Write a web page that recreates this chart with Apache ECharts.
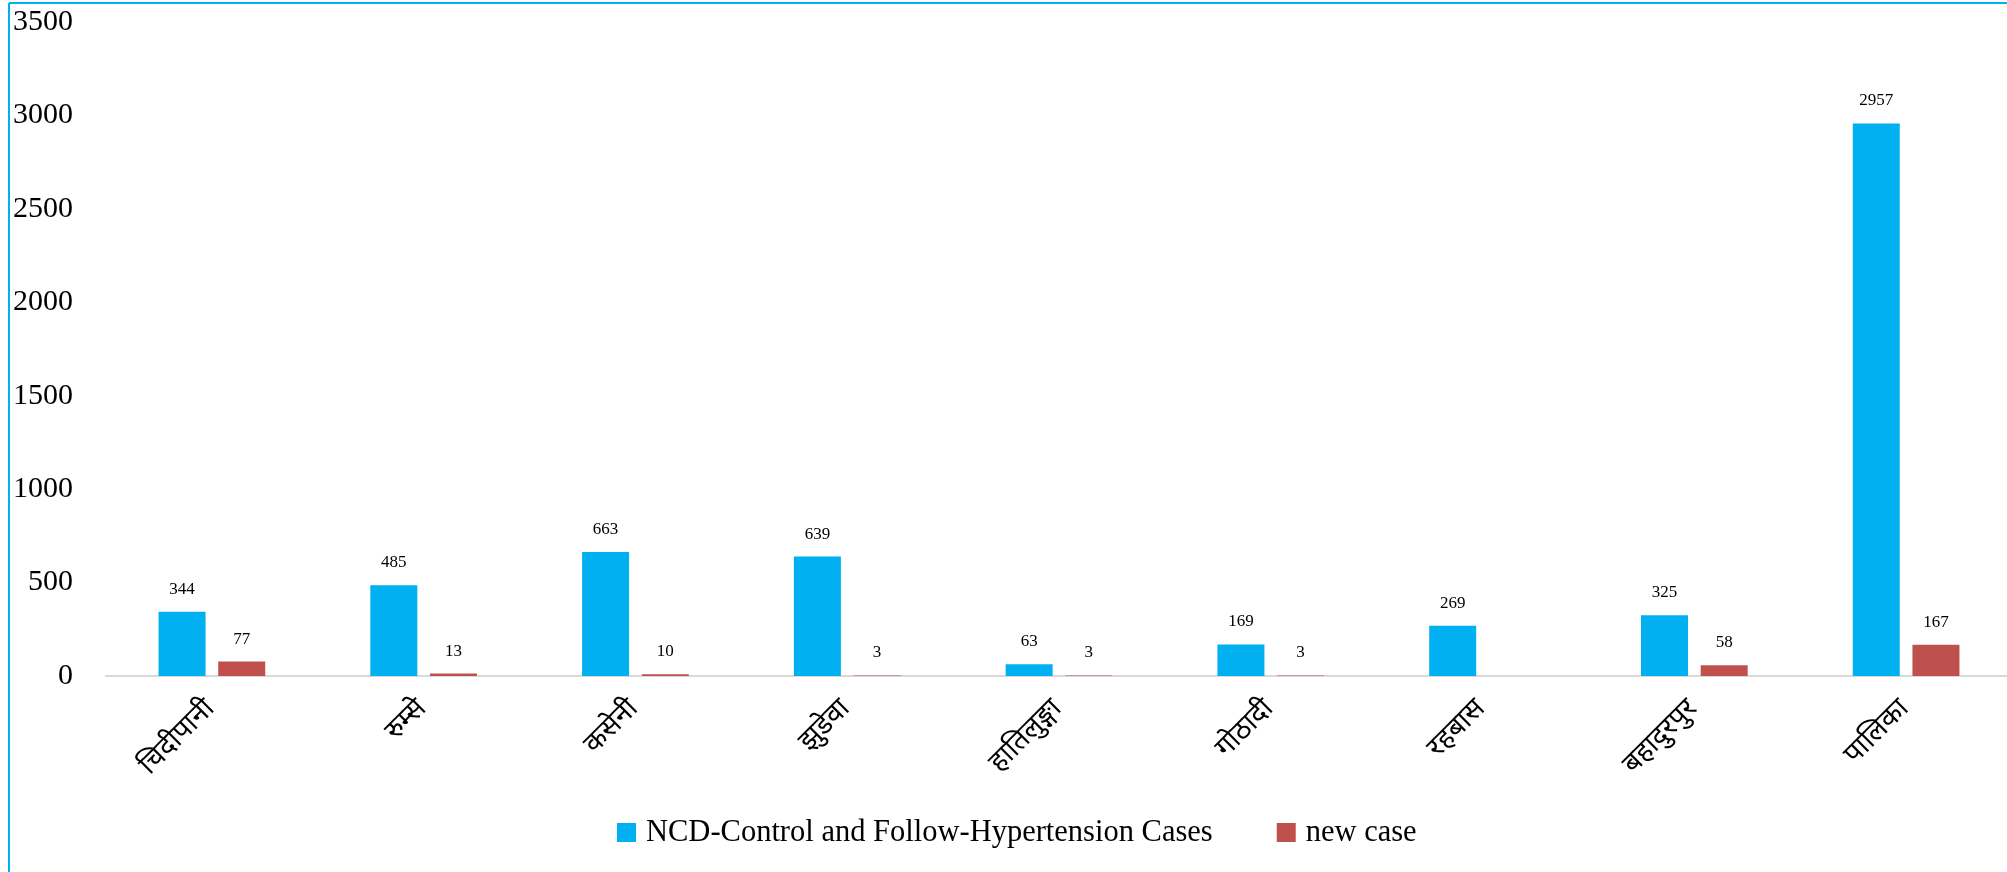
<!DOCTYPE html>
<html>
<head>
<meta charset="utf-8">
<script src="https://cdn.jsdelivr.net/npm/echarts@6/dist/echarts.min.js"></script>
<style>
html,body{margin:0;padding:0;background:#fff;overflow:hidden;}
#chart{width:2024px;height:872px;}
</style>
</head>
<body>
<div id="chart"></div>
<script>
const categories = ['चिदीपानी','रुम्से','कसेनी','झुडेवा','हातिलुङ्गा','गोठादी','रहबास','बहादुरपुर','पालिका'];
const ncdCases = [344, 485, 663, 639, 63, 169, 269, 325, 2957];
const newCases = [77, 13, 10, 3, 3, 3, null, 58, 167];
const seriesNames = ['NCD-Control and Follow-Hypertension Cases', 'new case'];
const yTicks = {min: 0, max: 3500, interval: 500};

const serif = '"Liberation Serif", "Times New Roman", serif';
const chart = echarts.init(document.getElementById('chart'));
chart.setOption({
  backgroundColor: '#ffffff',
  animation: false,
  graphic: [
    {type: 'line', shape: {x1: 9, y1: 3, x2: 9, y2: 872}, style: {stroke: '#00B0F0', lineWidth: 2}},
    {type: 'line', shape: {x1: 9, y1: 3, x2: 2024, y2: 3}, style: {stroke: '#00B0F0', lineWidth: 2}}
  ],
  legend: {
    left: 612,
    top: 812,
    icon: 'rect',
    itemWidth: 19,
    itemHeight: 19,
    itemGap: 64,
    textStyle: {fontFamily: serif, fontSize: 30.5, color: '#000', padding: [0, 0, 0, 5]},
    data: seriesNames
  },
  grid: {left: 106, top: 22, right: 12, height: 654, containLabel: false},
  xAxis: {
    type: 'category',
    data: categories,
    axisLine: {lineStyle: {color: '#d9d9d9', width: 2}},
    axisTick: {show: false},
    axisLabel: {
      rotate: 45,
      interval: 0,
      margin: 30,
      fontSize: 28,
      color: '#000',
      fontFamily: '"Noto Sans Devanagari", "Noto Sans", "DejaVu Sans", sans-serif'
    }
  },
  yAxis: {
    type: 'value',
    min: yTicks.min,
    max: yTicks.max,
    interval: yTicks.interval,
    axisLine: {show: false},
    axisTick: {show: false},
    splitLine: {show: false},
    axisLabel: {fontFamily: serif, fontSize: 30, color: '#000', margin: 33, formatter: function (v) { return String(v); }}
  },
  series: [
    {
      name: seriesNames[0],
      type: 'bar',
      data: ncdCases,
      barWidth: 47,
      barGap: '27%',
      itemStyle: {color: '#00B0F0'},
      label: {show: true, position: 'top', distance: 14, fontFamily: serif, fontSize: 17, color: '#000'}
    },
    {
      name: seriesNames[1],
      type: 'bar',
      data: newCases,
      barWidth: 47,
      barGap: '27%',
      itemStyle: {color: '#C0504D'},
      label: {show: true, position: 'top', distance: 14, fontFamily: serif, fontSize: 17, color: '#000'}
    }
  ]
});
</script>
</body>
</html>
